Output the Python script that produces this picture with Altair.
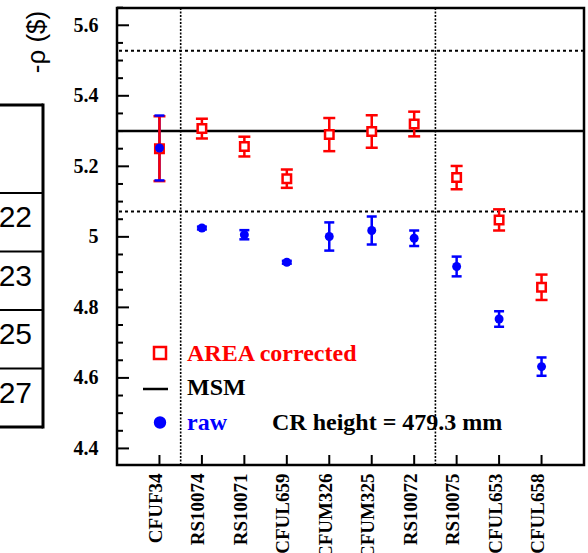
import altair as alt
import pandas as pd

# ---------------- data ----------------
names = ["CFUF34", "RS10074", "RS10071", "CFUL659", "CFUM326",
         "CFUM325", "RS10072", "RS10075", "CFUL653", "CFUL658"]
area_val = [5.250, 5.307, 5.256, 5.165, 5.290, 5.299, 5.320, 5.168, 5.048, 4.857]
area_err = [0.092, 0.028, 0.028, 0.026, 0.047, 0.046, 0.035, 0.033, 0.030, 0.036]
raw_val = [5.252, 5.025, 5.006, 4.928, 5.001, 5.018, 4.996, 4.916, 4.767, 4.632]
raw_err = [0.092, 0.004, 0.013, 0.004, 0.040, 0.040, 0.022, 0.028, 0.022, 0.026]
msm_value = 5.30
band_values = [5.528, 5.072]
divider_positions = [1.5, 7.5]
y_major = [4.4, 4.6, 4.8, 5.0, 5.2, 5.4, 5.6]
y_minor = [4.45, 4.5, 4.55, 4.65, 4.7, 4.75, 4.85, 4.9, 4.95, 5.05, 5.1, 5.15,
           5.25, 5.3, 5.35, 5.45, 5.5, 5.55, 5.65]
table_values = ["22", "23", "25", "27"]

# ---------------- layout ----------------
W, H = 467, 457
RED, BLUE = "#ff0000", "#0000ff"
SERIF, SANS = "Liberation Serif", "Liberation Sans"
XLAB, YLAB = 19, 20

df = pd.DataFrame({
    "idx": list(range(1, len(names) + 1)),
    "name": names,
    "a": area_val, "ae": area_err,
    "r": raw_val, "re": raw_err,
})
df["a_lo"] = df["a"] - df["ae"]
df["a_hi"] = df["a"] + df["ae"]
df["r_lo"] = df["r"] - df["re"]
df["r_hi"] = df["r"] + df["re"]

xs = alt.Scale(domain=[0, 11], nice=False, zero=False)
ys = alt.Scale(domain=[4.353, 5.649], nice=False, zero=False)

label_expr = "[" + ",".join(f"'{n}'" for n in names) + "][datum.value - 1]"
x_axis = alt.Axis(values=list(range(1, len(names) + 1)), labelExpr=label_expr,
                  labelAngle=270, labelAlign="right", labelBaseline="middle",
                  labelPadding=8, labelOffset=-4, labelFont=SERIF, labelFontWeight="bold",
                  labelFontSize=XLAB, labelColor="black", ticks=False, domain=False,
                  grid=False, title=None, labelOverlap=False, labelFlush=False)
y_axis = alt.Axis(values=y_major, format="~g", labelFont=SERIF, labelFontWeight="bold",
                  labelFontSize=YLAB, labelColor="black", labelPadding=19, ticks=False,
                  domain=False, grid=False, title=None, labelOverlap=False,
                  labelFlush=False)


def X(f):
    return alt.X(f, scale=xs, axis=x_axis)


def Y(f):
    return alt.Y(f, scale=ys, axis=y_axis)


layers = []

# reference lines
layers.append(alt.Chart(pd.DataFrame({"v": band_values})).mark_rule(
    color="black", strokeWidth=2, strokeDash=[3, 3]).encode(y=Y("v:Q")))
layers.append(alt.Chart(pd.DataFrame({"v": divider_positions})).mark_rule(
    color="black", strokeWidth=1.6, strokeDash=[2, 1.5]).encode(x=X("v:Q")))
layers.append(alt.Chart(pd.DataFrame({"v": [msm_value]})).mark_rule(
    color="black", strokeWidth=2.5).encode(y=Y("v:Q")))

# inner ticks
layers.append(alt.Chart(pd.DataFrame({"v": y_major})).mark_rule(
    color="black", strokeWidth=2).encode(y=Y("v:Q"), x=alt.value(0), x2=alt.value(12)))
layers.append(alt.Chart(pd.DataFrame({"v": y_minor})).mark_rule(
    color="black", strokeWidth=2).encode(y=Y("v:Q"), x=alt.value(0), x2=alt.value(6)))
layers.append(alt.Chart(df).mark_rule(color="black", strokeWidth=2).encode(
    x=X("idx:Q"), y=alt.value(H), y2=alt.value(H - 10)))

base = alt.Chart(df)
# raw error bars (under)
layers.append(base.mark_rule(color=BLUE, strokeWidth=2.5).encode(
    x=X("idx:Q"), y=Y("r_lo:Q"), y2="r_hi:Q"))
# area corrected
layers.append(base.mark_rule(color=RED, strokeWidth=2.5).encode(
    x=X("idx:Q"), y=Y("a_lo:Q"), y2="a_hi:Q"))
for f in ["a_lo", "a_hi"]:
    layers.append(base.mark_tick(orient="horizontal", size=12, thickness=2.5,
                                 color=RED, opacity=1).encode(x=X("idx:Q"), y=Y(f + ":Q")))
layers.append(base.mark_point(shape="square", size=72, fill="white", stroke=RED,
                              strokeWidth=2.5, opacity=1, fillOpacity=1).encode(
    x=X("idx:Q"), y=Y("a:Q")))
# raw caps and dots
for f in ["r_lo", "r_hi"]:
    layers.append(base.mark_tick(orient="horizontal", size=10, thickness=2.5,
                                 color=BLUE, opacity=1).encode(x=X("idx:Q"), y=Y(f + ":Q")))
layers.append(base.mark_circle(size=80, color=BLUE, opacity=1).encode(
    x=X("idx:Q"), y=Y("r:Q")))

# legend (inside the frame)
one = pd.DataFrame({"k": [0]})
layers.append(alt.Chart(one).mark_point(shape="square", size=144, fill="white",
                                         stroke=RED, strokeWidth=2.5, opacity=1,
                                         fillOpacity=1).encode(
    x=alt.value(43), y=alt.value(345)))
layers.append(alt.Chart(one).mark_rule(color="black", strokeWidth=2.5).encode(
    x=alt.value(26), x2=alt.value(51), y=alt.value(381)))
layers.append(alt.Chart(one).mark_circle(size=154, color=BLUE, opacity=1).encode(
    x=alt.value(43), y=alt.value(414.5)))
legend_texts = [("AREA corrected", RED, 70, 353), ("MSM", "black", 70, 387),
                ("raw", BLUE, 70, 421.5), ("CR height = 479.3 mm", "black", 155, 421.5)]
for txt, col, tx, ty in legend_texts:
    layers.append(alt.Chart(pd.DataFrame({"t": [txt]})).mark_text(
        font=SERIF, fontWeight="bold", fontSize=24, color=col, align="left",
        baseline="alphabetic").encode(text="t:N", x=alt.value(tx), y=alt.value(ty)))

# y title to the left
layers.append(alt.Chart(pd.DataFrame({"t": ["-ρ ($)"]})).mark_text(
    font=SANS, fontSize=26, color="black", angle=270, align="center",
    baseline="middle").encode(text="t:N", x=alt.value(-80), y=alt.value(34)))

# cropped table on the left
t_top, head_h, row_h = 97, 88, 58.5
bounds = [t_top, t_top + head_h] + [t_top + head_h + row_h * (i + 1) for i in range(len(table_values))]
layers.append(alt.Chart(one).mark_rule(color="black", strokeWidth=3).encode(
    x=alt.value(-74), y=alt.value(bounds[0] - 1.5), y2=alt.value(bounds[-1] + 1.5)))
for i, b in enumerate(bounds):
    sw = 3 if i in (0, len(bounds) - 1) else 2
    layers.append(alt.Chart(one).mark_rule(color="black", strokeWidth=sw).encode(
        x=alt.value(-130), x2=alt.value(-74), y=alt.value(b)))
for i, v in enumerate(table_values):
    layers.append(alt.Chart(pd.DataFrame({"t": [v]})).mark_text(
        font=SANS, fontSize=30, color="black", align="right", baseline="alphabetic").encode(
        text="t:N", x=alt.value(-85), y=alt.value(bounds[i + 1] + 34)))

chart = alt.layer(*layers).properties(
    width=W, height=H,
    padding={"left": 117, "top": 8, "right": 4, "bottom": 88},
    autosize=alt.AutoSizeParams(type="none"),
    background="white",
).configure_view(stroke="black", strokeWidth=2.5
).configure_axisX(labelFontSize=XLAB, labelFont=SERIF, labelFontWeight="bold"
).configure_axisY(labelFontSize=YLAB, labelFont=SERIF, labelFontWeight="bold")

chart.save("out.html", embed_options={"renderer": "svg", "actions": False})
